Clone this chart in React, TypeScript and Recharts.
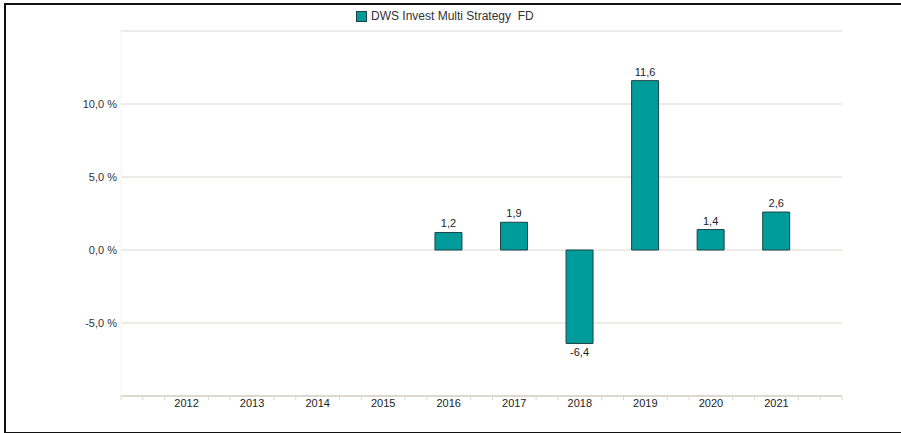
import React from "react";
import { BarChart, Bar, XAxis, YAxis, CartesianGrid, LabelList } from "recharts";

// ── data ──────────────────────────────────────────────────────────────
const YEARS = [2012, 2013, 2014, 2015, 2016, 2017, 2018, 2019, 2020, 2021];
const RETURNS: (number | null)[] = [null, null, null, null, 1.2, 1.9, -6.4, 11.6, 1.4, 2.6];
const SERIES_NAME = "DWS Invest Multi Strategy  FD";
const Y_TICKS = [-10, -5, 0, 5, 10, 15];
const Y_LABELED = [-5, 0, 5, 10];

const data = YEARS.map((year, i) => ({ year, value: RETURNS[i] }));

// minor axis ticks every third of a year, across the full domain
const X_MIN = YEARS[0] - 1;
const X_MAX = YEARS[YEARS.length - 1] + 1;
const xTicks: number[] = [];
for (let k = 0; k <= (X_MAX - X_MIN) * 3; k++) xTicks.push(X_MIN + k / 3);

const TEAL = "#009c9c";
const TEAL_EDGE = "#1d4444";
const GRID = "#dcd8cf";
const FONT = "'Liberation Sans', Arial, sans-serif";

const fmt = (v: number, digits: number) => v.toFixed(digits).replace(".", ",");

const isYear = (v: number) => Math.abs(v - Math.round(v)) < 1e-6 && YEARS.includes(Math.round(v));

function XTick(props: any) {
  const { x, y, payload } = props;
  const v = payload.value as number;
  if (isYear(v)) {
    return (
      <text x={x} y={y + 11} textAnchor="middle" fontSize={11} fontFamily={FONT} fill="#222">
        {Math.round(v)}
      </text>
    );
  }
  return <line x1={x} x2={x} y1={y} y2={y + 4} stroke={GRID} strokeWidth={1} />;
}

function YTick(props: any) {
  const { x, y, payload } = props;
  const v = payload.value as number;
  if (!Y_LABELED.includes(v)) return null;
  return (
    <text x={x} y={y + 4} textAnchor="end" fontSize={11} fontFamily={FONT} fill="#333">
      {fmt(v, 1)} %
    </text>
  );
}

function ValueLabel(props: any) {
  const { x, y, width, height, value } = props;
  if (value == null) return null;
  const top = Math.min(y, y + height);
  const bottom = Math.max(y, y + height);
  const cx = x + width / 2;
  const ty = value >= 0 ? top - 5 : bottom + 13;
  return (
    <text x={cx} y={ty} textAnchor="middle" fontSize={11} fontFamily={FONT} fill="#222">
      {fmt(value, 1)}
    </text>
  );
}

function LegendBox() {
  return (
    <div
      style={{
        position: "absolute",
        left: 356,
        top: 9,
        display: "flex",
        alignItems: "center",
        fontFamily: FONT,
        fontSize: 12,
        color: "#333",
        whiteSpace: "pre",
      }}
    >
      <span style={{ width: 9, height: 9, background: TEAL, border: `1px solid ${TEAL_EDGE}`, marginRight: 4, display: "inline-block" }} />
      <span>{SERIES_NAME}</span>
    </div>
  );
}

export default function App() {
  return (
    <div style={{ position: "absolute", left: 0, top: 0, width: 901, height: 433, background: "#fff" }}>
      <div
        style={{
          position: "absolute",
          left: 4,
          top: 3,
          width: 897,
          height: 427,
          borderTop: "2px solid #111",
          borderLeft: "2px solid #111",
          borderBottom: "2px solid #111",
        }}
      />
      <div style={{ position: "absolute", left: 0, top: 0 }}>
        <BarChart width={901} height={433} data={data} margin={{ top: 31, right: 59, bottom: 7, left: 0 }}>
          <CartesianGrid vertical={false} stroke={GRID} strokeWidth={1} />
          <XAxis
            dataKey="year"
            type="number"
            domain={[X_MIN, X_MAX]}
            ticks={xTicks}
            interval={0}
            height={30}
            tick={<XTick />}
            tickLine={false}
            tickSize={0}
            tickMargin={0}
            axisLine={{ stroke: GRID, strokeWidth: 2 }}
          />
          <YAxis
            width={121}
            domain={[-10, 15]}
            ticks={Y_TICKS}
            interval={0}
            tick={<YTick />}
            tickLine={false}
            tickSize={0}
            tickMargin={4}
            axisLine={{ stroke: "#f3f3f3" }}
          />
          <Bar dataKey="value" barSize={27} fill={TEAL} stroke={TEAL_EDGE} strokeWidth={1} isAnimationActive={false}>
            <LabelList dataKey="value" content={<ValueLabel />} />
          </Bar>
        </BarChart>
      </div>
      <LegendBox />
    </div>
  );
}
